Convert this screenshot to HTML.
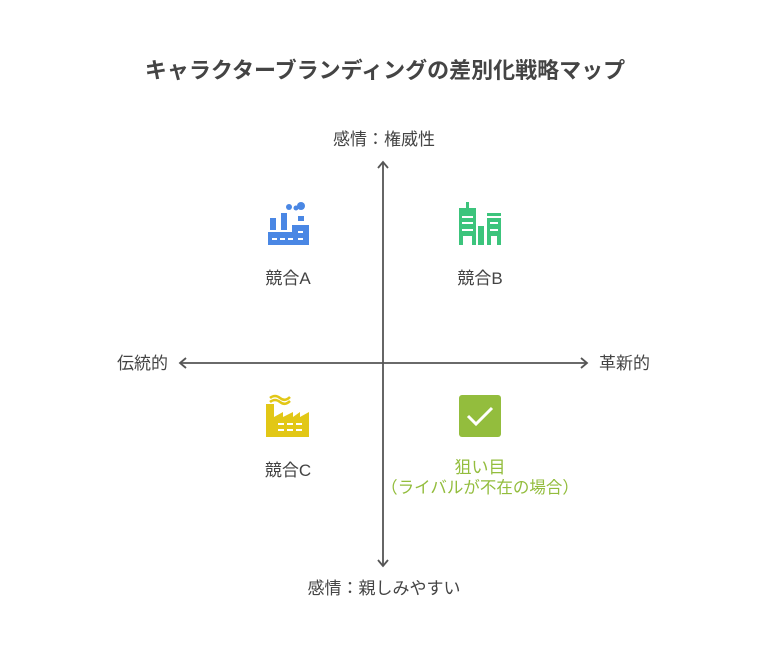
<!DOCTYPE html>
<html><head><meta charset="utf-8"><style>
body{margin:0;background:#fff;}
svg text{font-family:"Liberation Sans","Noto Sans CJK JP",sans-serif;}
</style></head><body>
<svg width="768" height="651" viewBox="0 0 768 651" xmlns="http://www.w3.org/2000/svg">
<rect width="768" height="651" fill="#fff"/>
<text x="385" y="78" text-anchor="middle" font-size="22" font-weight="bold" fill="#444">キャラクターブランディングの差別化戦略マップ</text>
<g stroke="#555" stroke-width="1.8" fill="none">
<line x1="383" y1="162" x2="383" y2="566"/>
<polyline points="378,168 383,162 388,168"/>
<polyline points="378,560 383,566 388,560"/>
<line x1="180" y1="363" x2="587" y2="363"/>
<polyline points="186,358 180,363 186,368"/>
<polyline points="581,358 587,363 581,368"/>
</g>
<text x="384" y="145" text-anchor="middle" font-size="17" fill="#444">感情：権威性</text>
<text x="384" y="594" text-anchor="middle" font-size="17" fill="#444">感情：親しみやすい</text>
<text x="168" y="369" text-anchor="end" font-size="17" fill="#444">伝統的</text>
<text x="599" y="369" font-size="17" fill="#444">革新的</text>
<!-- A icon -->
<g fill="#4a87e4">
<rect x="270" y="218" width="6" height="12"/>
<rect x="281" y="213" width="6" height="17"/>
<circle cx="289" cy="207" r="3"/>
<circle cx="301" cy="206" r="4"/><circle cx="296" cy="208" r="2.5"/>
<rect x="298" y="216" width="6" height="5"/>
<path d="M268 232 H292 V225 H309 V245 H268 Z"/>
</g>
<g fill="#fff"><rect x="272" y="238" width="5" height="2"/><rect x="280" y="238" width="5" height="2"/><rect x="288" y="238" width="5" height="2"/><rect x="298" y="238" width="5" height="2"/><rect x="298" y="231" width="5" height="2"/></g>
<text x="288" y="284" text-anchor="middle" font-size="17" fill="#444">競合A</text>
<!-- B icon -->
<g fill="#3cc47c">
<rect x="466" y="202" width="3" height="6"/>
<path d="M459 208 H476 V245 H472 V236 H463 V245 H459 Z"/>
<rect x="478" y="226" width="6" height="19"/>
<rect x="487" y="213" width="14" height="3"/>
<path d="M487 218 H501 V245 H497 V236 H491 V245 H487 Z"/>
</g>
<g fill="#fff"><rect x="462" y="216" width="11" height="2"/><rect x="462" y="222" width="11" height="2"/><rect x="462" y="229" width="11" height="2"/><rect x="490" y="222" width="8" height="2"/><rect x="490" y="229" width="8" height="2"/></g>
<text x="480" y="284" text-anchor="middle" font-size="17" fill="#444">競合B</text>
<!-- C icon -->
<path d="M270 402 q5 -4 10 0 t10 -1 M270 398 q5 -4 10 0 t10 -1" stroke="#e2c716" stroke-width="2.5" fill="none"/>
<path d="M266 437 V404 H274 V417 L283 412 V417 L293 412 V417 L300 412 V417 L309 412 V437 Z" fill="#e2c716"/>
<g fill="#fff"><rect x="278" y="423" width="6" height="2"/><rect x="287" y="423" width="6" height="2"/><rect x="296" y="423" width="6" height="2"/><rect x="278" y="429" width="6" height="2"/><rect x="287" y="429" width="6" height="2"/><rect x="296" y="429" width="6" height="2"/></g>
<text x="288" y="476" text-anchor="middle" font-size="17" fill="#444">競合C</text>
<!-- check -->
<rect x="459" y="395" width="42" height="42" rx="3" fill="#93bd3d"/>
<polyline points="468,416 476,424 492,408" stroke="#fff" stroke-width="3" fill="none"/>
<text x="480" y="473" text-anchor="middle" font-size="17" fill="#93bd3d">狙い目</text>
<text x="480" y="493" text-anchor="middle" font-size="16.5" fill="#93bd3d">（ライバルが不在の場合）</text>
</svg>
</body></html>
